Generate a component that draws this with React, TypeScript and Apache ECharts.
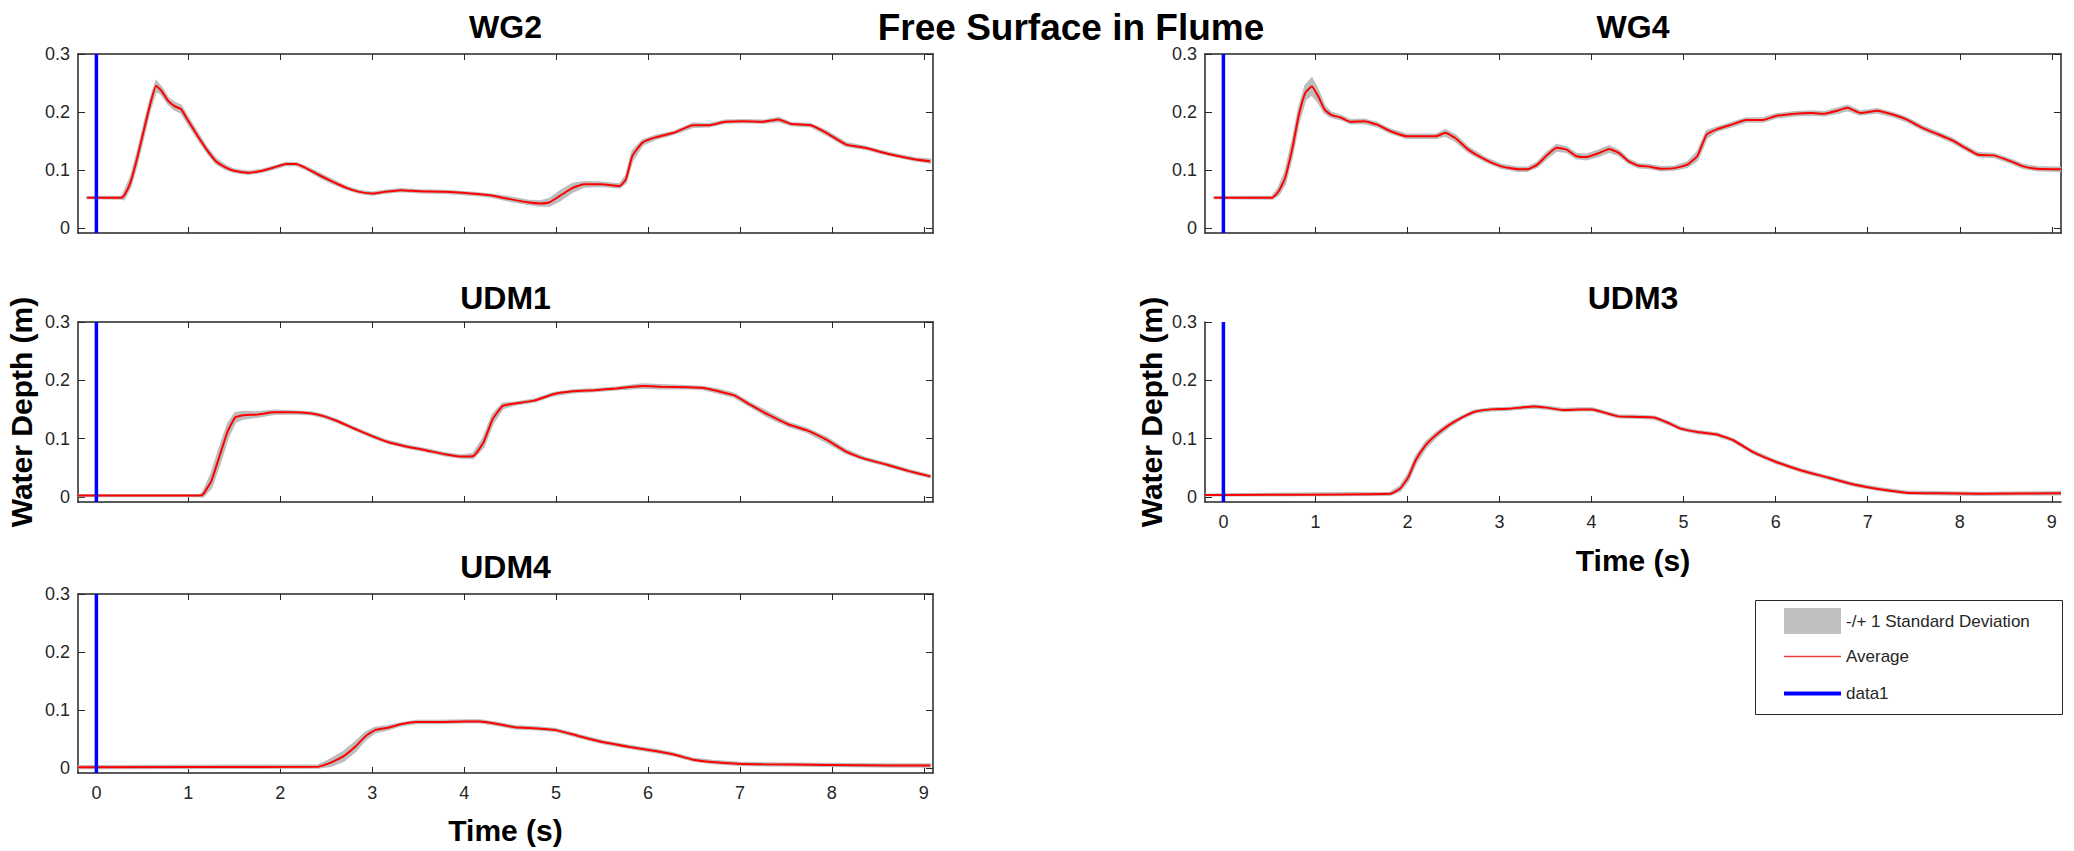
import React, { useEffect, useRef } from 'react';
import * as echarts from 'echarts';

// ---------- data ----------
const X_MIN = -0.2;
const X_MAX = 9.1;
const Y_MIN = -0.009;
const Y_MAX = 0.3;
const xTicks = [0, 1, 2, 3, 4, 5, 6, 7, 8, 9];
const yTicks = [0, 0.1, 0.2, 0.3];

const STD_NAME = '-/+ 1 Standard Deviation';
const AVG_NAME = 'Average';
const DATA1_NAME = 'data1';

const wg2T = [-0.1, 0.27, 0.3, 0.37, 0.44, 0.51, 0.58, 0.65, 0.71, 0.78, 0.85, 0.92, 0.99, 1.1, 1.2, 1.3, 1.41, 1.51, 1.65, 1.79, 1.93, 2.06, 2.17, 2.27, 2.41, 2.55, 2.72, 2.86, 3.0, 3.13, 3.31, 3.52, 3.79, 4.07, 4.28, 4.48, 4.69, 4.83, 4.93, 5.04, 5.18, 5.31, 5.49, 5.69, 5.76, 5.83, 5.94, 6.08, 6.28, 6.49, 6.66, 6.84, 7.04, 7.25, 7.42, 7.56, 7.77, 7.94, 8.15, 8.36, 8.63, 8.91, 9.07];
const wg2Avg = [0.052, 0.052, 0.055, 0.078, 0.118, 0.164, 0.21, 0.245, 0.236, 0.219, 0.21, 0.205, 0.187, 0.159, 0.135, 0.115, 0.104, 0.098, 0.095, 0.098, 0.104, 0.11, 0.11, 0.104, 0.092, 0.081, 0.069, 0.062, 0.059, 0.062, 0.065, 0.063, 0.062, 0.059, 0.056, 0.05, 0.044, 0.042, 0.044, 0.055, 0.069, 0.075, 0.075, 0.072, 0.084, 0.124, 0.147, 0.156, 0.164, 0.177, 0.177, 0.183, 0.184, 0.183, 0.187, 0.179, 0.177, 0.164, 0.144, 0.138, 0.127, 0.118, 0.115];
const wg2Std = [0.001, 0.002, 0.006, 0.008, 0.009, 0.009, 0.008, 0.008, 0.006, 0.005, 0.006, 0.006, 0.005, 0.005, 0.004, 0.004, 0.003, 0.002, 0.002, 0.002, 0.002, 0.002, 0.002, 0.002, 0.003, 0.003, 0.002, 0.002, 0.002, 0.002, 0.002, 0.002, 0.002, 0.002, 0.002, 0.003, 0.003, 0.004, 0.006, 0.008, 0.007, 0.004, 0.003, 0.003, 0.006, 0.008, 0.004, 0.003, 0.002, 0.003, 0.002, 0.002, 0.002, 0.002, 0.003, 0.002, 0.002, 0.003, 0.003, 0.002, 0.002, 0.002, 0.003];

const wg4T = [-0.1, 0.53, 0.6, 0.67, 0.75, 0.82, 0.89, 0.96, 1.03, 1.1, 1.17, 1.28, 1.38, 1.53, 1.67, 1.81, 1.99, 2.17, 2.31, 2.41, 2.52, 2.66, 2.84, 3.02, 3.2, 3.3, 3.41, 3.52, 3.62, 3.73, 3.83, 3.94, 4.08, 4.19, 4.3, 4.4, 4.51, 4.61, 4.76, 4.9, 5.04, 5.15, 5.25, 5.36, 5.5, 5.68, 5.86, 6.0, 6.21, 6.39, 6.53, 6.67, 6.78, 6.92, 7.1, 7.28, 7.42, 7.6, 7.77, 7.92, 8.06, 8.2, 8.37, 8.55, 8.69, 8.84, 9.1];
const wg4Avg = [0.052, 0.052, 0.063, 0.086, 0.138, 0.195, 0.233, 0.244, 0.227, 0.204, 0.195, 0.19, 0.183, 0.184, 0.178, 0.167, 0.158, 0.158, 0.158, 0.164, 0.155, 0.135, 0.118, 0.106, 0.101, 0.101, 0.109, 0.126, 0.138, 0.135, 0.124, 0.122, 0.129, 0.136, 0.129, 0.115, 0.107, 0.106, 0.102, 0.103, 0.109, 0.124, 0.161, 0.17, 0.177, 0.186, 0.186, 0.193, 0.197, 0.198, 0.197, 0.202, 0.207, 0.198, 0.202, 0.195, 0.187, 0.172, 0.161, 0.151, 0.138, 0.126, 0.125, 0.115, 0.106, 0.102, 0.101];
const wg4Std = [0.001, 0.002, 0.006, 0.01, 0.012, 0.012, 0.012, 0.014, 0.01, 0.006, 0.004, 0.003, 0.003, 0.003, 0.003, 0.003, 0.003, 0.003, 0.003, 0.005, 0.005, 0.004, 0.003, 0.003, 0.003, 0.003, 0.004, 0.005, 0.005, 0.004, 0.004, 0.004, 0.005, 0.005, 0.004, 0.003, 0.003, 0.003, 0.003, 0.003, 0.004, 0.007, 0.006, 0.003, 0.003, 0.003, 0.003, 0.003, 0.003, 0.003, 0.003, 0.004, 0.004, 0.003, 0.003, 0.003, 0.003, 0.003, 0.003, 0.003, 0.003, 0.003, 0.003, 0.003, 0.003, 0.003, 0.003];

const udm1T = [-0.2, 1.13, 1.16, 1.25, 1.34, 1.43, 1.51, 1.6, 1.75, 1.93, 2.13, 2.34, 2.48, 2.62, 2.79, 3.0, 3.17, 3.38, 3.58, 3.79, 3.97, 4.1, 4.21, 4.31, 4.42, 4.55, 4.76, 4.97, 5.18, 5.42, 5.66, 5.94, 6.14, 6.42, 6.59, 6.77, 6.94, 7.11, 7.32, 7.53, 7.73, 7.94, 8.15, 8.36, 8.6, 8.84, 9.07];
const udm1Avg = [0.002, 0.002, 0.004, 0.027, 0.07, 0.113, 0.136, 0.14, 0.141, 0.145, 0.145, 0.143, 0.138, 0.13, 0.118, 0.104, 0.094, 0.086, 0.08, 0.073, 0.069, 0.07, 0.093, 0.133, 0.156, 0.16, 0.165, 0.176, 0.181, 0.183, 0.186, 0.19, 0.189, 0.188, 0.187, 0.181, 0.174, 0.158, 0.14, 0.124, 0.114, 0.098, 0.078, 0.065, 0.055, 0.044, 0.035];
const udm1Std = [0.001, 0.001, 0.004, 0.012, 0.014, 0.012, 0.008, 0.006, 0.004, 0.003, 0.002, 0.002, 0.002, 0.002, 0.002, 0.002, 0.002, 0.002, 0.002, 0.002, 0.002, 0.004, 0.008, 0.008, 0.004, 0.002, 0.002, 0.002, 0.002, 0.002, 0.002, 0.003, 0.003, 0.002, 0.002, 0.003, 0.003, 0.003, 0.004, 0.003, 0.003, 0.004, 0.003, 0.002, 0.002, 0.002, 0.002];

const udm3T = [-0.2, 1.81, 1.92, 2.01, 2.09, 2.2, 2.31, 2.45, 2.59, 2.73, 2.91, 3.09, 3.23, 3.37, 3.51, 3.69, 3.87, 4.01, 4.15, 4.29, 4.51, 4.68, 4.83, 4.97, 5.15, 5.36, 5.54, 5.75, 6.0, 6.28, 6.57, 6.85, 7.13, 7.42, 7.77, 8.2, 9.1];
const udm3Avg = [0.003, 0.005, 0.014, 0.034, 0.063, 0.089, 0.106, 0.123, 0.136, 0.146, 0.15, 0.151, 0.153, 0.155, 0.153, 0.149, 0.15, 0.15, 0.144, 0.138, 0.137, 0.136, 0.127, 0.117, 0.111, 0.107, 0.097, 0.077, 0.06, 0.045, 0.033, 0.021, 0.013, 0.007, 0.006, 0.005, 0.006];
const udm3Std = [0.001, 0.002, 0.004, 0.006, 0.006, 0.005, 0.004, 0.003, 0.002, 0.002, 0.002, 0.002, 0.002, 0.002, 0.002, 0.002, 0.002, 0.002, 0.002, 0.002, 0.002, 0.002, 0.002, 0.002, 0.002, 0.002, 0.002, 0.002, 0.002, 0.002, 0.002, 0.002, 0.002, 0.002, 0.002, 0.002, 0.002];

const udm4T = [-0.2, 2.41, 2.55, 2.69, 2.82, 2.93, 3.03, 3.17, 3.31, 3.48, 3.72, 4.0, 4.17, 4.35, 4.55, 4.8, 5.0, 5.24, 5.52, 5.8, 6.08, 6.28, 6.49, 6.7, 6.98, 7.25, 7.94, 8.63, 9.07];
const udm4Avg = [0.001, 0.002, 0.009, 0.02, 0.037, 0.055, 0.065, 0.069, 0.075, 0.079, 0.079, 0.08, 0.08, 0.076, 0.07, 0.068, 0.065, 0.055, 0.044, 0.036, 0.029, 0.023, 0.014, 0.01, 0.007, 0.006, 0.005, 0.004, 0.004];
const udm4Std = [0.002, 0.002, 0.006, 0.008, 0.008, 0.006, 0.004, 0.003, 0.002, 0.002, 0.002, 0.002, 0.002, 0.002, 0.002, 0.002, 0.002, 0.002, 0.002, 0.002, 0.002, 0.002, 0.002, 0.002, 0.002, 0.002, 0.002, 0.002, 0.002];

const data1X = [0, 0];
const data1Y = [Y_MIN, Y_MAX];

const panelNames = ['WG2', 'WG4', 'UDM1', 'UDM3', 'UDM4'];
const panelT = [wg2T, wg4T, udm1T, udm3T, udm4T];
const panelAvg = [wg2Avg, wg4Avg, udm1Avg, udm3Avg, udm4Avg];
const panelStd = [wg2Std, wg4Std, udm1Std, udm3Std, udm4Std];

// ---------- layout ----------
const FONT = '"Liberation Sans", Arial, Helvetica, sans-serif';
const AXIS_COLOR = '#262626';
const BAND_COLOR = '#bdbdbd';
const AVG_COLOR = '#ff0000';
const DATA1_COLOR = '#0000ff';
const grids = [
  { left: 78, top: 54, width: 855, height: 179 },
  { left: 1205, top: 54, width: 856, height: 179 },
  { left: 78, top: 322, width: 855, height: 180 },
  { left: 1205, top: 322, width: 856, height: 180 },
  { left: 78, top: 594, width: 855, height: 179 },
];
const titleY = [26.5, 26.5, 297.5, 297.5, 566.5];
const boxed = [true, true, true, false, true];
const showXLabels = [false, false, false, true, true];

function buildOption(): any {
  const xAxis: any[] = [];
  const yAxis: any[] = [];
  const series: any[] = [];
  const graphic: any[] = [];

  const axisLine = { show: true, onZero: false, lineStyle: { color: AXIS_COLOR, width: 1.5 } };
  const tickStyle = { color: AXIS_COLOR, width: 1 };

  grids.forEach((g, i) => {
    xAxis.push({
      type: 'value', gridIndex: i, min: X_MIN, max: X_MAX, position: 'bottom',
      axisLine,
      axisTick: { show: true, inside: true, length: 6, customValues: xTicks, lineStyle: tickStyle },
      axisLabel: { show: showXLabels[i], customValues: xTicks, margin: 11, fontSize: 18, color: AXIS_COLOR, fontFamily: FONT },
      splitLine: { show: false },
    });
    xAxis.push({
      type: 'value', gridIndex: i, min: X_MIN, max: X_MAX, position: 'top', show: boxed[i],
      axisLine,
      axisTick: { show: true, inside: true, length: 6, customValues: xTicks, lineStyle: tickStyle },
      axisLabel: { show: false },
      splitLine: { show: false },
    });
    yAxis.push({
      type: 'value', gridIndex: i, min: Y_MIN, max: Y_MAX, position: 'left',
      axisLine,
      axisTick: { show: true, inside: true, length: 7, customValues: yTicks, lineStyle: tickStyle },
      axisLabel: { show: true, customValues: yTicks, margin: 8, fontSize: 18, color: AXIS_COLOR, fontFamily: FONT },
      splitLine: { show: false },
    });
    yAxis.push({
      type: 'value', gridIndex: i, min: Y_MIN, max: Y_MAX, position: 'right', show: boxed[i],
      axisLine,
      axisTick: { show: true, inside: true, length: 7, customValues: yTicks, lineStyle: tickStyle },
      axisLabel: { show: false },
      splitLine: { show: false },
    });

    const T = panelT[i];
    const A = panelAvg[i];
    const S = panelStd[i];

    series.push({
      type: 'custom', name: STD_NAME, xAxisIndex: 2 * i, yAxisIndex: 2 * i,
      data: [[T[0], A[0]]], silent: true, clip: true, z: 1,
      itemStyle: { color: BAND_COLOR },
      renderItem: (_p: any, api: any) => {
        const up = T.map((t, k) => api.coord([t, A[k] + S[k]]));
        const lo = T.map((t, k) => api.coord([t, A[k] - S[k]])).reverse();
        return {
          type: 'polygon',
          shape: { points: up.concat(lo) },
          style: { fill: BAND_COLOR, stroke: BAND_COLOR, lineWidth: 2 },
        };
      },
    });
    series.push({
      type: 'line', name: AVG_NAME, xAxisIndex: 2 * i, yAxisIndex: 2 * i,
      data: T.map((t, k) => [t, A[k]]),
      symbol: 'none', showSymbol: false, smooth: 0.15, z: 3,
      lineStyle: { color: AVG_COLOR, width: 2 }, itemStyle: { color: AVG_COLOR },
    });
    series.push({
      type: 'line', name: DATA1_NAME, xAxisIndex: 2 * i, yAxisIndex: 2 * i,
      data: data1X.map((x, k) => [x, data1Y[k]]),
      symbol: 'none', showSymbol: false, z: 4,
      lineStyle: { color: DATA1_COLOR, width: 3.5 }, itemStyle: { color: DATA1_COLOR },
    });

    graphic.push({
      type: 'text', x: g.left + g.width / 2, y: titleY[i],
      style: {
        text: panelNames[i], fontSize: 32, fontWeight: 'bold', fontFamily: FONT, fill: '#000',
        align: 'center', verticalAlign: 'middle', textAlign: 'center', textVerticalAlign: 'middle',
      },
    });
  });

  const labelStyle = (text: string) => ({
    text, fontSize: 30, fontWeight: 'bold', fontFamily: FONT, fill: '#000',
    align: 'center', verticalAlign: 'middle', textAlign: 'center', textVerticalAlign: 'middle',
  });

  graphic.push({
    type: 'text', x: 1071, y: 27,
    style: {
      text: 'Free Surface in Flume', fontSize: 37, fontWeight: 'bold', fontFamily: FONT, fill: '#000',
      align: 'center', verticalAlign: 'middle', textAlign: 'center', textVerticalAlign: 'middle',
    },
  });
  graphic.push({ type: 'text', x: 21, y: 412, rotation: Math.PI / 2, style: labelStyle('Water Depth (m)') });
  graphic.push({ type: 'text', x: 1151, y: 412, rotation: Math.PI / 2, style: labelStyle('Water Depth (m)') });
  graphic.push({ type: 'text', x: 1633, y: 560, style: labelStyle('Time (s)') });
  graphic.push({ type: 'text', x: 505.5, y: 830, style: labelStyle('Time (s)') });

  // legend frame
  graphic.push({
    type: 'rect', z: 1,
    shape: { x: 1755.5, y: 600.5, width: 307, height: 114 },
    style: { fill: '#ffffff', stroke: AXIS_COLOR, lineWidth: 1 },
  });

  const legendCommon = {
    orient: 'vertical', left: 1784, padding: 0, itemWidth: 57, itemHeight: 26,
    selectedMode: false, z: 10,
    textStyle: { fontSize: 17, color: AXIS_COLOR, fontFamily: FONT },
  };

  return {
    animation: false,
    backgroundColor: '#ffffff',
    grid: grids.map((g) => ({ ...g, containLabel: false })),
    xAxis,
    yAxis,
    series,
    graphic,
    legend: [
      { ...legendCommon, top: 608, data: [{ name: STD_NAME, icon: 'rect', itemStyle: { color: '#c0c0c0' } }] },
      { ...legendCommon, top: 648, data: [{ name: AVG_NAME, icon: 'path://M0,0H57V1.5H0Z', itemStyle: { color: '#e84040' } }] },
      { ...legendCommon, top: 685, data: [{ name: DATA1_NAME, icon: 'path://M0,0H57V4H0Z', itemStyle: { color: DATA1_COLOR } }] },
    ],
  };
}

export default function App() {
  const ref = useRef<HTMLDivElement>(null);
  useEffect(() => {
    document.body.style.margin = '0';
    if (!ref.current) return;
    const chart = echarts.init(ref.current, undefined, { renderer: 'svg' });
    chart.setOption(buildOption());
    return () => chart.dispose();
  }, []);
  return (
    <div
      ref={ref}
      style={{ position: 'absolute', left: 0, top: 0, width: 2074, height: 851, background: '#fff' }}
    />
  );
}
